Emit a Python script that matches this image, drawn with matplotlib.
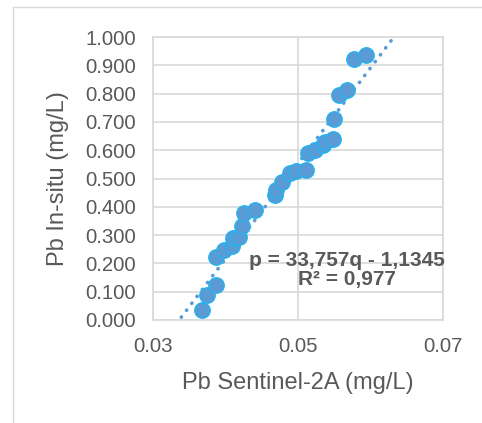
import matplotlib.pyplot as plt
from matplotlib.lines import Line2D

plt.rcParams['font.family'] = ['Liberation Sans', 'DejaVu Sans']

# Pb Sentinel-2A (mg/L) vs Pb In-situ (mg/L)
sentinel = [0.0367, 0.0375, 0.0387, 0.0387, 0.0398, 0.0409, 0.0410, 0.0419,
            0.0423, 0.0425, 0.0441, 0.0468, 0.0470, 0.0478, 0.0489, 0.0497,
            0.0511, 0.0514, 0.0524, 0.0535, 0.0537, 0.0548, 0.0550, 0.0557,
            0.0567, 0.0577, 0.0594]
insitu = [0.037, 0.090, 0.124, 0.224, 0.248, 0.263, 0.290, 0.292,
          0.333, 0.379, 0.390, 0.440, 0.458, 0.487, 0.519, 0.528,
          0.531, 0.591, 0.599, 0.617, 0.629, 0.640, 0.709, 0.794,
          0.811, 0.923, 0.938]

slope = 33.757
intercept = -1.1345
trend_x = [0.0339, 0.0630]
trend_y = [slope * q + intercept for q in trend_x]

xticks = [0.03, 0.05, 0.07]
yticks = [i / 10 for i in range(11)]

grey = '#595959'
grid = '#D9D9D9'

fig = plt.figure(figsize=(4.82, 4.23), dpi=100)
ax = fig.add_axes([0.3174, 0.2435, 0.6017, 0.669])

ax.scatter(sentinel, insitu, s=125, color='#5B9BD5', edgecolors='#1FB5F0',
           linewidths=0.9, zorder=3)
ax.plot(trend_x, trend_y, color='#5B9BD5', linestyle=(0, (0.1, 2.3)),
        linewidth=2.6, dash_capstyle='round', zorder=2)

ax.set_xlim(0.03, 0.07)
ax.set_ylim(0, 1)
ax.set_xticks(xticks)
ax.set_yticks(yticks)
ax.set_xticklabels(['%.2f' % v for v in xticks])
ax.set_yticklabels(['%.3f' % v for v in yticks])
ax.tick_params(length=0, pad=12, labelsize=14.7, colors=grey)
ax.grid(True, color=grid, linewidth=1.2)
ax.set_axisbelow(True)
for s in ax.spines.values():
    s.set_color(grid)
    s.set_linewidth(1.2)

ax.set_xlabel('Pb Sentinel-2A (mg/L)', fontsize=17, color=grey, labelpad=12)
ax.set_ylabel('Pb In-situ (mg/L)', fontsize=17, color=grey, labelpad=12)

fig.text(347 / 482, 1 - 270 / 423, 'p = 33,757q - 1,1345\nR² = 0,977',
         ha='center', va='center', fontsize=15, fontweight='bold',
         color=grey, linespacing=1.05)

# chart area border
fig.add_artist(Line2D([13 / 482, 13 / 482], [0, 1 - 7 / 423],
                      transform=fig.transFigure, color=grid, linewidth=1))
fig.add_artist(Line2D([13 / 482, 1], [1 - 7 / 423, 1 - 7 / 423],
                      transform=fig.transFigure, color=grid, linewidth=1))

fig.savefig('out.png', dpi=100)
